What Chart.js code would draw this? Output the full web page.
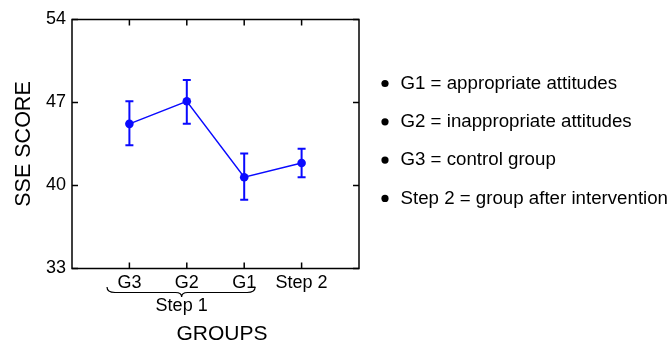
<!DOCTYPE html>
<html>
<head>
<meta charset="utf-8">
<script src="https://cdn.jsdelivr.net/npm/chart.js@4.4.1/dist/chart.umd.min.js"></script>
<style>
  html, body { margin: 0; padding: 0; background: #fff; }
  #wrap { position: relative; width: 668px; height: 342px; }
</style>
</head>
<body>
<div id="wrap"><canvas id="c" width="668" height="342"></canvas></div>
<script>
// ---- data ----
const categories = ['G3', 'G2', 'G1', 'Step 2'];
const means = [45.2, 47.1, 40.7, 41.9];
const upper = [47.1, 48.9, 42.7, 43.1];
const lower = [43.4, 45.2, 38.8, 40.7];
const yTicks = [33, 40, 47, 54];
const legendItems = [
  'G1 = appropriate attitudes',
  'G2 = inappropriate attitudes',
  'G3 = control group',
  'Step 2 = group after intervention'
];
const groupLabel = 'Step 1';
const xTitle = 'GROUPS';

const FONT = "'Liberation Sans', Arial, Helvetica, sans-serif";
const BLUE = '#0a0aff';

const points = categories.map((c, i) => ({ x: i + 1, y: means[i] }));

const decorPlugin = {
  id: 'decor',
  beforeDatasetsDraw(chart) {
    const { ctx, scales: { x, y } } = chart;
    ctx.save();
    ctx.strokeStyle = BLUE;
    ctx.lineWidth = 2;
    categories.forEach((c, i) => {
      const px = x.getPixelForValue(i + 1);
      const t = y.getPixelForValue(upper[i]);
      const b = y.getPixelForValue(lower[i]);
      ctx.beginPath();
      ctx.moveTo(px, t); ctx.lineTo(px, b);
      ctx.moveTo(px - 4, t); ctx.lineTo(px + 4, t);
      ctx.moveTo(px - 4, b); ctx.lineTo(px + 4, b);
      ctx.stroke();
    });
    ctx.restore();
  },
  afterDraw(chart) {
    const { ctx, chartArea: a, scales: { x, y } } = chart;
    ctx.save();
    ctx.strokeStyle = '#000';
    ctx.lineWidth = 1.5;
    ctx.strokeRect(a.left, a.top, a.right - a.left, a.bottom - a.top);
    const L = 6;
    ctx.beginPath();
    yTicks.forEach(v => {
      const py = y.getPixelForValue(v);
      ctx.moveTo(a.left, py); ctx.lineTo(a.left + L, py);
      ctx.moveTo(a.right, py); ctx.lineTo(a.right - L, py);
    });
    categories.forEach((c, i) => {
      const px = x.getPixelForValue(i + 1);
      ctx.moveTo(px, a.bottom); ctx.lineTo(px, a.bottom - L);
      ctx.moveTo(px, a.top); ctx.lineTo(px, a.top + L);
    });
    ctx.stroke();

    // brace under G3..G1
    const x0 = x.getPixelForValue(0.61);
    const x1 = x.getPixelForValue(3.19);
    const xm = x.getPixelForValue(1.91);
    const yt = 287, yl = 292.5, yb = 297;
    ctx.lineWidth = 1.2;
    ctx.beginPath();
    ctx.moveTo(x0, yt);
    ctx.quadraticCurveTo(x0, yl, x0 + 8, yl);
    ctx.lineTo(xm - 6, yl);
    ctx.quadraticCurveTo(xm, yl, xm, yb);
    ctx.quadraticCurveTo(xm, yl, xm + 6, yl);
    ctx.lineTo(x1 - 8, yl);
    ctx.quadraticCurveTo(x1, yl, x1, yt);
    ctx.stroke();

    ctx.fillStyle = '#000';
    ctx.font = '18px ' + FONT;
    ctx.textAlign = 'center';
    ctx.textBaseline = 'middle';
    ctx.fillText(groupLabel, xm, 306);

    ctx.font = '21px ' + FONT;
    ctx.fillText(xTitle, (a.left + a.right) / 2 + 6.5, 334.5);

    ctx.textAlign = 'left';
    ctx.font = '18.7px ' + FONT;
    legendItems.forEach((t, i) => {
      const cy = 83.5 + i * 38.3;
      ctx.beginPath();
      ctx.arc(385, cy, 3.6, 0, Math.PI * 2);
      ctx.fill();
      ctx.fillText(t, 400.5, cy);
    });
    ctx.restore();
  }
};

new Chart(document.getElementById('c'), {
  type: 'scatter',
  data: {
    datasets: [{
      data: points,
      showLine: true,
      borderColor: BLUE,
      backgroundColor: BLUE,
      borderWidth: 1.5,
      pointRadius: 4.3,
      pointHoverRadius: 4.3,
      pointBorderWidth: 0
    }]
  },
  options: {
    responsive: false,
    animation: false,
    events: [],
    layout: { padding: { left: 0, top: 19.5, right: 309, bottom: 0 } },
    plugins: { legend: { display: false }, tooltip: { enabled: false } },
    scales: {
      x: {
        type: 'linear',
        min: 0, max: 5,
        afterFit(s) { s.height = 73.5; },
        afterBuildTicks(s) { s.ticks = [0, 1, 2, 3, 4, 5].map(v => ({ value: v })); },
        grid: { display: false, drawTicks: false },
        border: { display: false },
        ticks: {
          autoSkip: false, maxRotation: 0, padding: 4,
          color: '#000',
          font: { family: FONT, size: 18 },
          callback: v => categories[v - 1] || ''
        },
        title: { display: false }
      },
      y: {
        min: 33, max: 54,
        afterFit(s) { s.width = 72; },
        afterBuildTicks(s) { s.ticks = yTicks.map(v => ({ value: v })); },
        grid: { display: false, drawTicks: false },
        border: { display: false },
        ticks: {
          padding: 6, color: '#000',
          font: { family: FONT, size: 18 }
        },
        title: {
          display: true, text: 'SSE SCORE', color: '#000',
          font: { family: FONT, size: 21.5, lineHeight: 1.2 },
          padding: { top: 11, bottom: 0 }
        }
      }
    }
  },
  plugins: [decorPlugin]
});
</script>
</body>
</html>
